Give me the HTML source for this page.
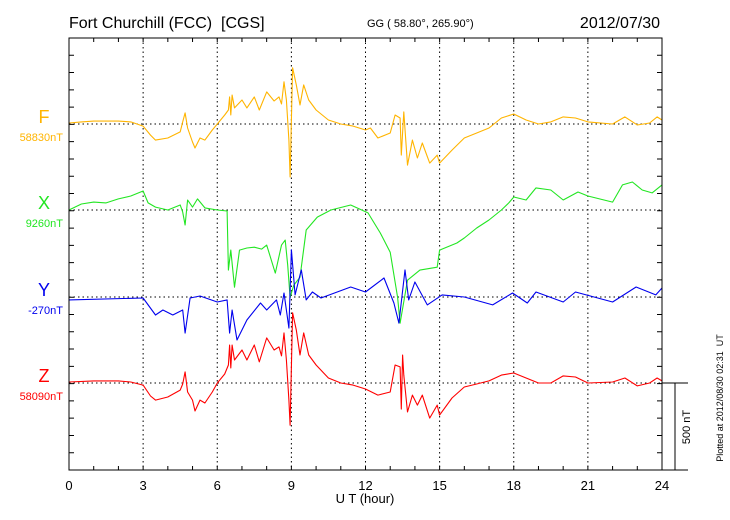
<!DOCTYPE html>
<html><head><meta charset="utf-8">
<style>
html,body{margin:0;padding:0;background:#fff;}
svg{display:block;font-family:"Liberation Sans",sans-serif;}
</style></head>
<body>
<svg id="chart" width="730" height="520" viewBox="0 0 730 520">
<text x="69" y="28" font-size="16" fill="#000">Fort Churchill (FCC)&#160;&#160;[CGS]</text>
<text x="367" y="27" font-size="11" fill="#000">GG ( 58.80°, 265.90°)</text>
<text x="660" y="28" font-size="16" fill="#000" text-anchor="end">2012/07/30</text>
<g id="grid"></g>
<g id="series"></g>
<g id="axes"></g>
<text x="365" y="503" font-size="13" text-anchor="middle">U T (hour)</text>
<text transform="translate(690,427) rotate(-90)" font-size="11" text-anchor="middle">500 nT</text>
<text transform="translate(723,398) rotate(-90)" font-size="9" text-anchor="middle">Plotted at 2012/08/30 02:31&#160;&#160;UT</text>
</svg>
<script>
const xTicks = [0,3,6,9,12,15,18,21,24];
const componentNames = ["F","X","Y","Z"];
const baselineLabels = ["58830nT","9260nT","-270nT","58090nT"];
const fHours = [0,0.5,1,2,2.5,3,3.3,3.5,4,4.5,4.6,4.7,4.8,5,5.1,5.3,5.5,5.8,6,6.3,6.45,6.5,6.55,6.6,6.7,7,7.2,7.5,7.7,8,8.3,8.5,8.6,8.7,8.8,8.9,8.95,9.05,9.2,9.35,9.5,9.7,10,10.5,11,11.5,12,12.2,12.5,13,13.2,13.4,13.45,13.55,13.7,13.9,14.1,14.3,14.6,14.9,15,15.5,16,16.5,17,17.5,18,18.5,19,19.5,20,20.5,21,22,22.5,23,23.5,23.8,24];
const fValues = [6,12,17,17,12,-12,-64,-93,-81,-46,12,64,-23,-104,-139,-81,-93,-35,0,52,81,157,52,168,93,139,93,157,81,186,133,157,116,244,139,-93,-307,325,226,110,226,139,81,23,0,-12,-35,-23,-81,-52,52,35,-180,70,-238,-93,-197,-110,-226,-180,-226,-151,-81,-52,-23,35,58,23,0,12,41,35,12,0,41,-6,6,41,23];
const xHours = [0,0.5,1,1.5,2,2.5,3,3.2,3.5,4,4.5,4.6,4.7,4.8,5,5.2,5.5,6,6.4,6.45,6.55,6.7,6.9,7.2,7.5,7.8,8,8.35,8.6,8.75,8.85,8.95,9.1,9.35,9.6,10.05,10.6,11.4,12.1,12.6,13,13.3,13.4,13.7,14.2,14.9,15,15.7,16,16.5,17,17.5,17.8,18,18.5,18.9,19.5,20,20.6,21,22,22.4,22.8,23.2,23.6,24];
const xValues = [0,35,46,41,64,81,110,41,17,0,29,-12,-87,58,17,64,12,0,-6,-348,-232,-447,-232,-220,-215,-226,-203,-365,-203,-174,-319,-505,-435,-389,-116,-41,0,29,-17,-133,-244,-505,-655,-406,-348,-331,-232,-191,-162,-104,-58,0,41,75,58,128,116,58,104,81,46,145,162,116,99,145];
const yHours = [0,3,3.5,3.8,4.2,4.6,4.7,4.9,5.3,6,6.4,6.5,6.6,6.8,7.2,7.75,8,8.4,8.55,8.7,8.9,9,9.15,9.4,9.6,9.85,10.2,11.4,12,12.75,13.15,13.35,13.6,13.75,14,14.5,15.1,16,17.15,17.95,18.55,18.9,20,20.5,22,22.95,23.75,24];
const yValues = [-17,-6,-104,-75,-104,-75,-209,-6,6,-29,-17,-209,-75,-249,-133,-35,-75,-17,-104,23,-180,273,12,157,-17,29,-6,58,29,110,-35,-151,157,-17,87,-46,12,0,-46,23,-35,29,-29,29,-29,58,12,52];
const zHours = [0,1,2,2.5,3,3.3,3.5,4,4.5,4.6,4.7,4.8,5,5.1,5.3,5.5,5.8,6,6.3,6.45,6.5,6.55,6.6,6.7,7,7.2,7.5,7.7,8,8.3,8.5,8.6,8.7,8.8,8.9,8.95,9.05,9.2,9.35,9.5,9.7,10,10.5,11,11.5,12,12.5,13,13.2,13.4,13.45,13.5,13.55,13.7,13.9,14.1,14.3,14.6,14.9,15,15.5,16,16.5,17,17.5,18,18.5,19,19.5,20,20.5,21,22,22.5,23,23.5,23.8,24];
const zValues = [6,12,12,6,-12,-75,-99,-81,-41,-6,64,-52,-99,-162,-99,-116,-52,0,52,104,220,87,220,133,191,133,220,122,261,191,209,157,290,133,-99,-244,406,307,162,290,162,104,29,0,-12,-35,-70,-52,104,93,-151,162,46,-168,-70,-128,-70,-203,-128,-186,-87,-23,-6,12,46,58,29,0,0,41,35,0,6,29,-17,0,29,12];

const NS="http://www.w3.org/2000/svg";
const L=69,R=662,T=38,B=470;
const baselines=[124,210,297,383];
const pxPerNT=86.4/500;
const colors=["#ffb400","#22e622","#0000ee","#ff0000"];
function xs(h){return L+(R-L)*h/24;}
function ys(i,v){return baselines[i]-v*pxPerNT;}
const svg=document.getElementById('chart');
const grid=document.getElementById('grid');
const axes=document.getElementById('axes');
const ser=document.getElementById('series');
function mk(tag,attrs,parent){const e=document.createElementNS(NS,tag);for(const k in attrs)e.setAttribute(k,attrs[k]);parent.appendChild(e);return e;}

xTicks.forEach(h=>{
  if(h>0&&h<24){
    const g=mk('line',{x1:xs(h),x2:xs(h),y1:T,y2:B,stroke:'#000','stroke-width':1,'stroke-dasharray':'1.5,3'},grid);
    
    
  }
  const t=mk('text',{x:xs(h),y:490,'font-size':13,'text-anchor':'middle'},axes);
  t.textContent=h;
  
  
});
baselines.forEach((b,i)=>{
  const g=mk('line',{x1:L,x2:R,y1:b,y2:b,stroke:'#000','stroke-width':1,'stroke-dasharray':'1.5,3'},grid);
  
  
  const n=mk('text',{x:44,y:b-1,'font-size':18,'text-anchor':'middle',fill:colors[i]},axes);
  n.textContent=componentNames[i];
  
  
  const v=mk('text',{x:63,y:b+17,'font-size':11,'text-anchor':'end',fill:colors[i]},axes);
  v.textContent=baselineLabels[i];
  
  
});
const fr=mk('rect',{x:L,y:T,width:R-L,height:B-T,fill:'none',stroke:'#000','stroke-width':1},axes);


let d='';
for(let h=1;h<24;h++){d+=`M${xs(h)},${T}v4M${xs(h)},${B}v-4`;}
for(let k=1;k<25;k++){const y=T+k*(B-T)/25;d+=`M${L},${y}h5M${R},${y}h-5`;}
const tk=mk('path',{d:d,stroke:'#000','stroke-width':1,fill:'none'},axes);


const sb=mk('path',{d:`M${R},${B}H688M${R},383H688M675,383V${B}`,stroke:'#000','stroke-width':1,fill:'none'},axes);



const allH=[fHours,xHours,yHours,zHours], allV=[fValues,xValues,yValues,zValues];
allH.forEach((hs,i)=>{
  const p=hs.map((h,j)=>(j?'L':'M')+xs(h).toFixed(1)+','+ys(i,allV[i][j]).toFixed(1)).join('');
  const e=mk('path',{d:p,fill:'none',stroke:colors[i],'stroke-width':1.1,'stroke-linejoin':'round'},ser);
  
  
});
</script>
</body></html>
